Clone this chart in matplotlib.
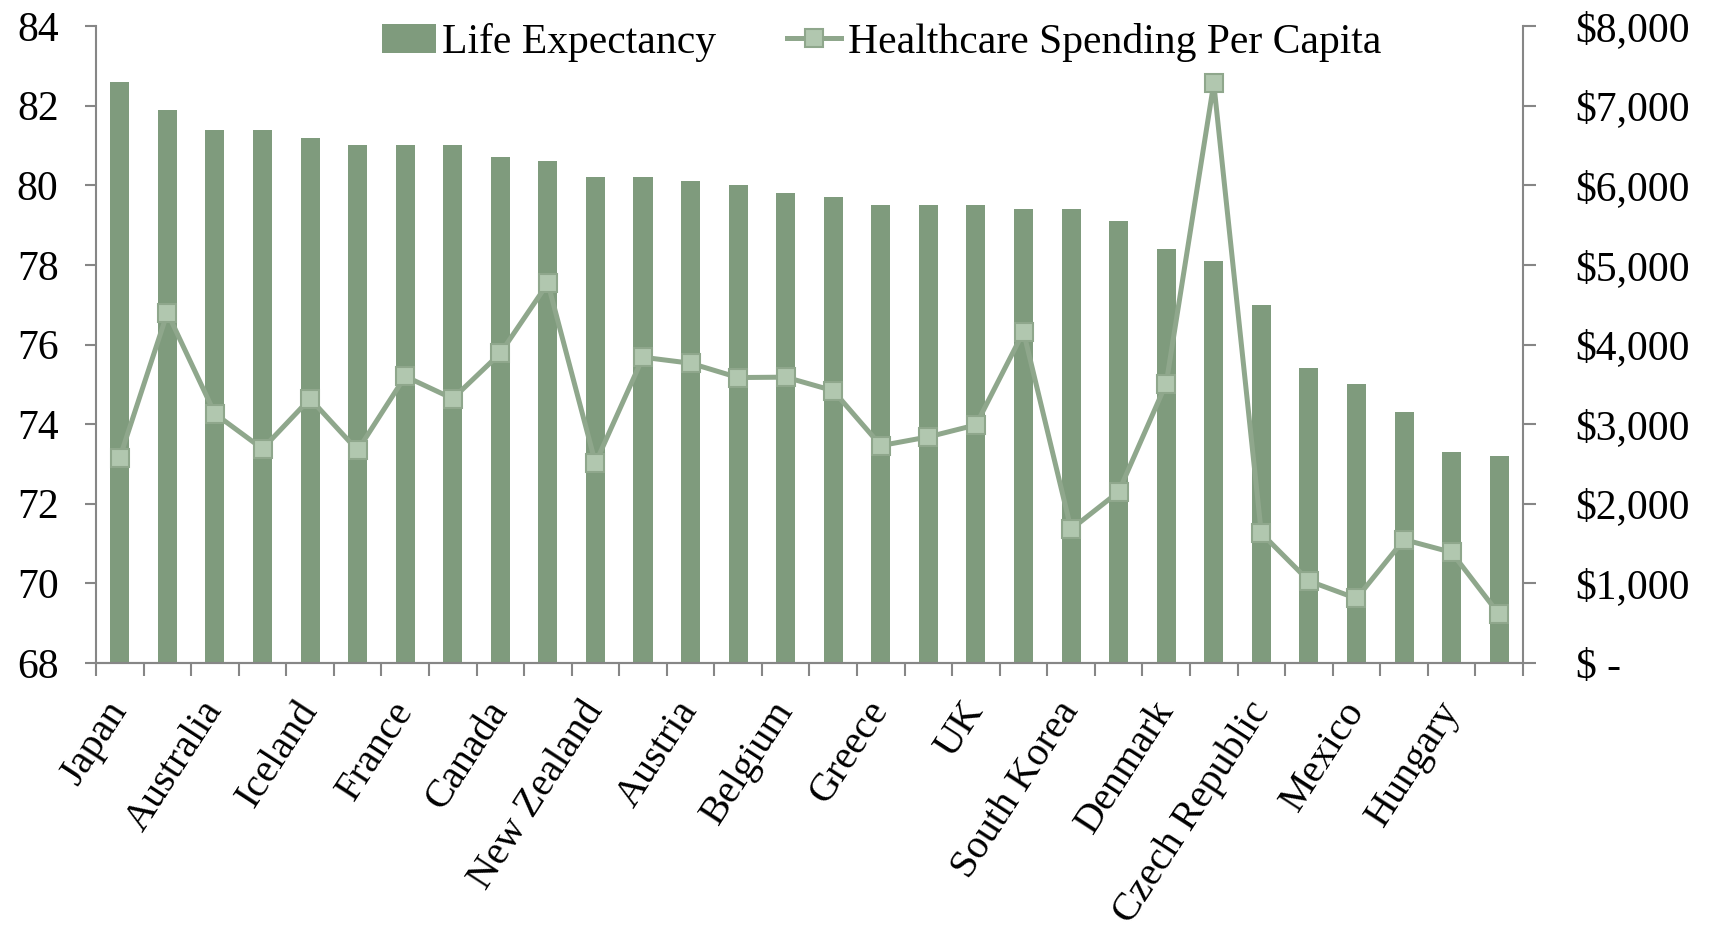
import matplotlib
matplotlib.use("Agg")
import matplotlib.pyplot as plt
import numpy as np
from matplotlib.ticker import FuncFormatter

plt.rcParams['font.family'] = ['Liberation Serif', 'DejaVu Serif']

countries = ["Japan", "Switzerland", "Australia", "Italy", "Iceland", "Spain",
             "France", "Sweden", "Canada", "Norway", "New Zealand", "Netherlands",
             "Austria", "Germany", "Belgium", "Ireland", "Greece", "Finland",
             "UK", "Luxembourg", "South Korea", "Portugal", "Denmark", "USA",
             "Czech Republic", "Poland", "Mexico", "Slovakia", "Hungary", "Turkey"]
life_expectancy = [82.6, 81.9, 81.4, 81.4, 81.2, 81.0, 81.0, 81.0, 80.7, 80.6,
                   80.2, 80.2, 80.1, 80.0, 79.8, 79.7, 79.5, 79.5, 79.5, 79.4,
                   79.4, 79.1, 78.4, 78.1, 77.0, 75.4, 75.0, 74.3, 73.3, 73.2]
spending = [2580, 4400, 3130, 2690, 3320, 2670, 3600, 3320, 3890, 4770,
            2510, 3840, 3765, 3585, 3590, 3420, 2730, 2840, 2990, 4160,
            1680, 2150, 3510, 7280, 1630, 1030, 810, 1550, 1390, 610]

BAR = "#7f9b7d"
LINE = "#8fa78c"
MARK = "#b1c7af"
AXIS = "#868686"
FS = 30

fig = plt.figure(figsize=(17.15, 9.4), dpi=100)
ax = fig.add_axes([0.056, 0.2947, 0.832, 0.6776])
x = np.arange(len(countries))

ax.bar(x, life_expectancy, width=0.4, color=BAR, label="Life Expectancy", zorder=2)
ax.set_ylim(68, 84)
ax.set_yticks(range(68, 85, 2))
ax.set_xlim(-0.5, len(countries) - 0.5)

ax2 = ax.twinx()
ax2.plot(x, spending, color=LINE, lw=3.6, marker="s", markersize=13.5,
         markerfacecolor=MARK, markeredgecolor=LINE, markeredgewidth=1.5,
         label="Healthcare Spending Per Capita", zorder=3)
ax2.set_ylim(0, 8000)
ax2.set_yticks(range(0, 8001, 1000))
ax2.yaxis.set_major_formatter(FuncFormatter(lambda v, p: "$ -" if v == 0 else "${:,.0f}".format(v)))

for a in (ax, ax2):
    a.spines['top'].set_visible(False)
    for s in ('left', 'right', 'bottom'):
        a.spines[s].set_color(AXIS)
        a.spines[s].set_linewidth(1.5)
ax.spines['right'].set_visible(False)
ax2.spines['left'].set_visible(False)

ax.tick_params(axis='y', direction='out', length=8, width=1.5, color=AXIS,
               labelsize=FS, pad=19)
ax2.tick_params(axis='y', direction='out', length=9, width=1.5, color=AXIS,
                labelsize=FS, pad=29)

# category labels on every other bar, ticks at category boundaries
ax.set_xticks(x[::2])
ax.set_xticklabels(countries[::2], rotation=57, ha='right', va='center',
                   rotation_mode='anchor', fontsize=29)
ax.tick_params(axis='x', which='major', length=0, pad=30)
ax.set_xticks(np.arange(-0.5, len(countries), 1.0), minor=True)
ax.tick_params(axis='x', which='minor', direction='out', length=9, width=1.5, color=AXIS)

h1, l1 = ax.get_legend_handles_labels()
h2, l2 = ax2.get_legend_handles_labels()
fig.legend(h1 + h2, l1 + l2, loc='center', bbox_to_anchor=(0.514, 0.955), ncol=2,
           frameon=False, fontsize=FS, handlelength=1.3, handletextpad=0.15,
           columnspacing=1.7)

fig.savefig("out.png", dpi=100)
